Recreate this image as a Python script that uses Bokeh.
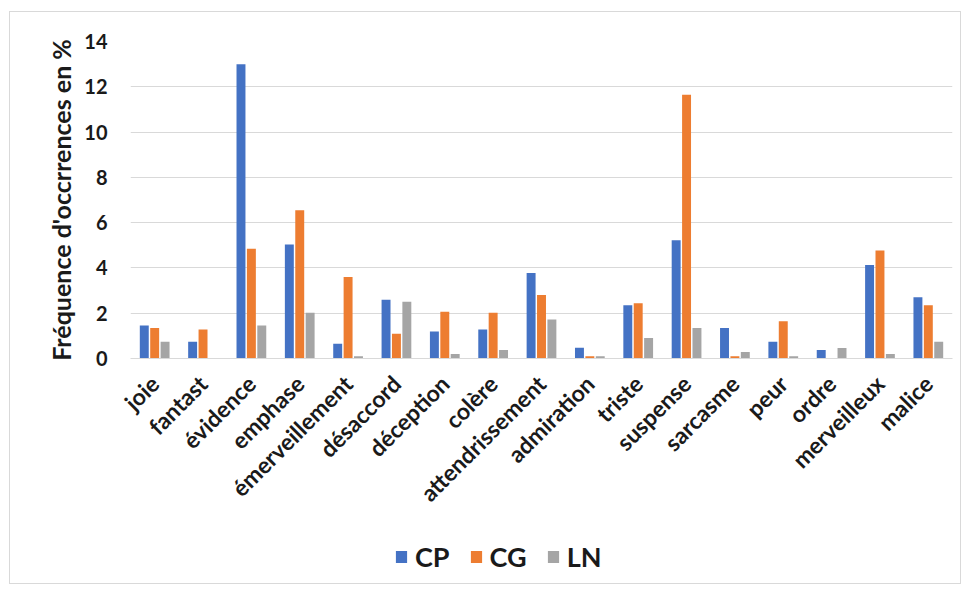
from math import pi
from bokeh.plotting import figure
from bokeh.layouts import column
from bokeh.models import ColumnDataSource, FactorRange, Range1d, FixedTicker, Legend, LegendItem
from bokeh.transform import dodge
from bokeh.embed import file_html
from bokeh.resources import INLINE

categories = ["joie", "fantast", "évidence", "emphase", "émerveillement", "désaccord",
              "déception", "colère", "attendrissement", "admiration", "triste", "suspense",
              "sarcasme", "peur", "ordre", "merveilleux", "malice"]
CP = [1.46, 0.74, 13.0, 5.03, 0.65, 2.6, 1.19, 1.28, 3.78, 0.47, 2.35, 5.22, 1.35, 0.74, 0.37, 4.13, 2.7]
CG = [1.35, 1.28, 4.85, 6.55, 3.6, 1.09, 2.07, 2.02, 2.8, 0.1, 2.44, 11.65, 0.1, 1.65, 0.0, 4.77, 2.35]
LN = [0.74, 0.0, 1.46, 2.02, 0.1, 2.51, 0.2, 0.37, 1.72, 0.1, 0.91, 1.35, 0.29, 0.1, 0.46, 0.2, 0.74]
y_ticks = [0, 2, 4, 6, 8, 10, 12, 14]
series = ["CP", "CG", "LN"]
colors = ["#4472C4", "#ED7D31", "#A5A5A5"]

FONT = "Lato"
TXT = "#1a1a1a"

source = ColumnDataSource(dict(cat=categories, CP=CP, CG=CG, LN=LN))

W = 950
LEFT = 120
p = figure(width=W, height=511, x_range=FactorRange(*categories), y_range=Range1d(0, 14),
           output_backend="svg", toolbar_location=None,
           min_border_left=LEFT, min_border_right=W - LEFT - 822, min_border_top=29, min_border_bottom=165)
p.outline_line_color = None

renderers = []
offsets = [-0.215, 0.0, 0.215]
for s, c, o in zip(series, colors, offsets):
    r = p.vbar(x=dodge("cat", o, range=p.x_range), top=s, width=0.185, source=source,
               fill_color=c, line_color=None)
    renderers.append(r)

p.xgrid.grid_line_color = None
p.ygrid.grid_line_color = "#d9d9d9"
p.ygrid.grid_line_width = 1

p.yaxis.ticker = FixedTicker(ticks=y_ticks)
p.yaxis.axis_line_color = None
p.yaxis.major_tick_line_color = None
p.yaxis.minor_tick_line_color = None
p.yaxis.major_tick_out = 0
p.yaxis.major_tick_in = 0
p.yaxis.major_label_text_font = FONT
p.yaxis.major_label_text_font_style = "bold"
p.yaxis.major_label_text_font_size = "20px"
p.yaxis.major_label_text_color = TXT
p.yaxis.major_label_standoff = 23
p.yaxis.axis_label = "Fréquence d'occrrences en %"
p.yaxis.axis_label_text_font = FONT
p.yaxis.axis_label_text_font_style = "bold"
p.yaxis.axis_label_text_font_size = "25px"
p.yaxis.axis_label_text_color = TXT
p.yaxis.axis_label_standoff = 5

p.xaxis.axis_line_color = "#d9d9d9"
p.xaxis.major_tick_line_color = None
p.xaxis.minor_tick_line_color = None
p.xaxis.major_tick_out = 0
p.xaxis.major_tick_in = 0
p.xaxis.major_label_orientation = pi / 4
p.xaxis.major_label_text_font = FONT
p.xaxis.major_label_text_font_style = "bold"
p.xaxis.major_label_text_font_size = "23px"
p.xaxis.major_label_text_color = TXT
p.xaxis.major_label_standoff = 21

# legend strip below the chart; its renderers are hidden and only feed the legend swatches
q = figure(width=W, height=60, x_range=FactorRange(*categories), y_range=Range1d(0, 14),
           output_backend="svg", toolbar_location=None, x_axis_type=None, y_axis_type=None,
           min_border_left=LEFT, min_border_right=W - LEFT - 822, min_border_top=0, min_border_bottom=0)
q.outline_line_color = None
q.xgrid.grid_line_color = None
q.ygrid.grid_line_color = None
leg_renderers = []
for s, c, o in zip(series, colors, offsets):
    r = q.vbar(x=dodge("cat", o, range=q.x_range), top=s, width=0.185,
               source=source, fill_color=c, line_color=None)
    r.visible = False
    leg_renderers.append(r)
legend = Legend(items=[LegendItem(label=s, renderers=[r]) for s, r in zip(series, leg_renderers)],
                orientation="horizontal", location=(264, 10))
legend.border_line_color = None
legend.background_fill_alpha = 0
legend.inactive_fill_alpha = 0
legend.padding = 0
legend.margin = 0
legend.spacing = 19
legend.glyph_width = 14
legend.glyph_height = 15
legend.label_standoff = 7
legend.label_text_font = FONT
legend.label_text_font_style = "bold"
legend.label_text_font_size = "27px"
legend.label_text_color = TXT
q.add_layout(legend, "center")

layout = column(p, q, spacing=0)
layout.styles = {"border": "1px solid #d9d9d9", "margin-left": "9px", "margin-top": "11px"}

open("out.html", "w").write(file_html(layout, INLINE))
